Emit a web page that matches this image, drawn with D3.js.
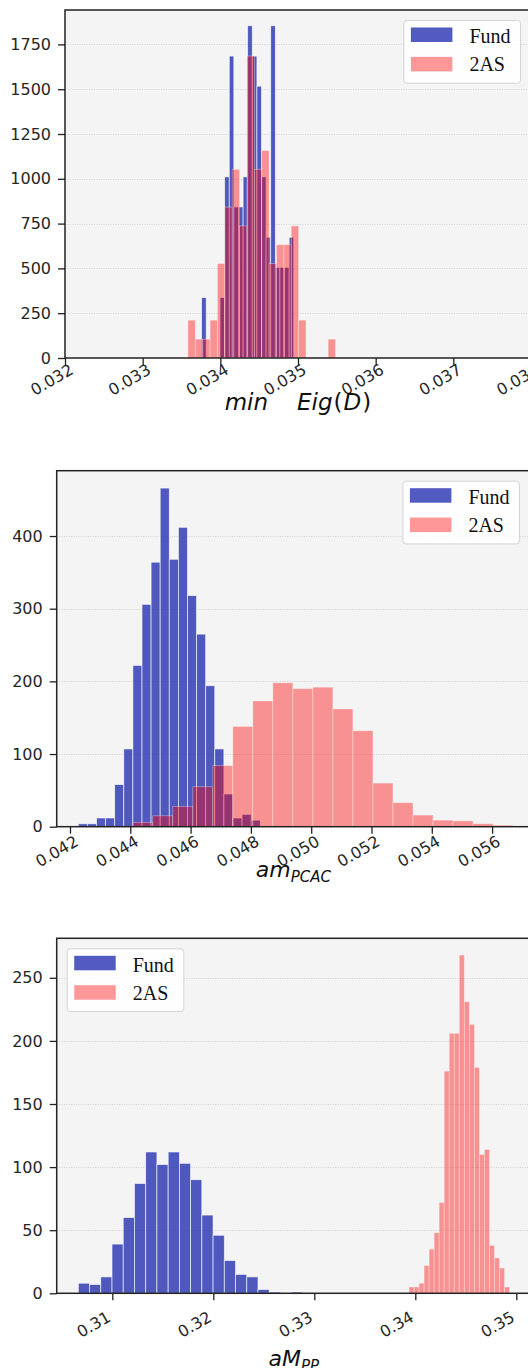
<!DOCTYPE html>
<html>
<head>
<meta charset="utf-8">
<script src="https://cdn.jsdelivr.net/npm/d3@7"></script>
<style>
  html, body { margin: 0; padding: 0; background: #ffffff; }
  svg { display: block; }
</style>
</head>
<body>
<svg id="chart" width="528" height="1368"></svg>
<script>
// ---------------------------------------------------------------
// Histogram data (density heights per bin, bin edges in data units)
// ---------------------------------------------------------------
const seriesNames = ["Fund", "2AS"];

// Panel 1: min Eig(D)
const eigEdgesFund = [0.033759, 0.033818, 0.033878, 0.033937, 0.033996, 0.034056, 0.034115,
  0.034174, 0.034233, 0.034293, 0.034352, 0.034411, 0.034471, 0.034530, 0.034589, 0.034649,
  0.034708, 0.034767, 0.034826, 0.034886, 0.034945];
const eigFund = [337, 0, 0, 0, 337, 1011, 1685, 843, 843, 1011, 1854, 1685, 1517, 1011, 674,
  1854, 506, 506, 506, 674];
const eigEdges2AS = [0.033583, 0.033678, 0.033773, 0.033868, 0.033963, 0.034058, 0.034153,
  0.034248, 0.034343, 0.034438, 0.034533, 0.034628, 0.034723, 0.034818, 0.034913, 0.035008,
  0.035103, 0.035198, 0.035293, 0.035388, 0.035483];
const eig2AS = [211, 105, 105, 211, 527, 842, 1053, 737, 1685, 1053, 1158, 527, 632, 632, 737,
  211, 0, 0, 0, 105];
const eigTicksX = [0.032, 0.033, 0.034, 0.035, 0.036, 0.037, 0.038];
const eigTicksY = [0, 250, 500, 750, 1000, 1250, 1500, 1750];

// Panel 2: am_PCAC
const pcacEdgesFund = [0.042275, 0.042577, 0.042879, 0.043181, 0.043482, 0.043784, 0.044086,
  0.044388, 0.044689, 0.044991, 0.045293, 0.045595, 0.045897, 0.046198, 0.046500, 0.046802,
  0.047104, 0.047405, 0.047707, 0.048009, 0.048311];
const pcacFund = [4, 4, 12, 12, 58, 107, 222, 306, 364, 466, 368, 412, 318, 265, 194, 107, 45,
  12, 17, 9];
const pcacEdges2AS = [0.044080, 0.044744, 0.045408, 0.046072, 0.046736, 0.047400, 0.048064,
  0.048728, 0.049392, 0.050056, 0.050720, 0.051384, 0.052048, 0.052712, 0.053376, 0.054040,
  0.054704, 0.055368, 0.056032, 0.056696];
const pcac2AS = [6, 15, 28, 55, 84, 138, 173, 198, 190, 192, 162, 132, 60, 33, 16, 9, 8, 4, 2];
const pcacTicksX = [0.042, 0.044, 0.046, 0.048, 0.050, 0.052, 0.054, 0.056];
const pcacTicksY = [0, 100, 200, 300, 400];

// Panel 3: aM_PP
const ppEdgesFund = [0.306634, 0.307746, 0.308858, 0.309970, 0.311082, 0.312194, 0.313306,
  0.314418, 0.315530, 0.316642, 0.317754, 0.318866, 0.319978, 0.321090, 0.322202, 0.323314,
  0.324426, 0.325538, 0.326650, 0.327762, 0.328874];
const ppFund = [8, 7, 13, 39, 60, 87, 112, 102, 112, 103, 90, 62, 46, 26, 15, 13, 3, 1, 0, 1];
const ppEdges2AS = [0.339376, 0.339874, 0.340372, 0.340870, 0.341368, 0.341866, 0.342364,
  0.342862, 0.343360, 0.343858, 0.344356, 0.344854, 0.345352, 0.345850, 0.346348, 0.346846,
  0.347344, 0.347842, 0.348340, 0.348838, 0.349336];
const pp2AS = [5, 5, 8, 22, 35, 48, 72, 176, 206, 206, 268, 231, 213, 179, 110, 114, 38, 28, 20, 5];
const ppTicksX = [0.31, 0.32, 0.33, 0.34, 0.35];
const ppTicksY = [0, 50, 100, 150, 200, 250];

// ---------------------------------------------------------------
// Styling and layout
// ---------------------------------------------------------------
const TICK_FONT = "'DejaVu Sans', sans-serif";
const LEGEND_FONT = "'Liberation Serif', 'Times New Roman', serif";
const seriesStyle = {
  "Fund": { fill: "rgb(24,36,170)", opacity: 0.75 },
  "2AS":  { fill: "rgb(255,0,0)",   opacity: 0.40 }
};

const panels = [
  {
    id: "eig", left: 65, right: 531, top: 10, bottom: 358,
    xDomain: [0.032, 0.038], yDomain: [0, 1942],
    xTicks: eigTicksX, yTicks: eigTicksY, xFormat: d3.format(".3f"),
    fund: [eigEdgesFund, eigFund], twoAS: [eigEdges2AS, eig2AS],
    legend: "right",
    tickLabelAt: [9, 15],
    labelSize: 23,
    label: [{ t: "min", i: true }, { t: "Eig", i: true, dx: 29 },
            { t: "(", i: false, dx: 1 }, { t: "D", i: true, dx: 1 }, { t: ")", i: false, dx: 1 }],
    labelY: 410
  },
  {
    id: "pcac", left: 56.7, right: 530, top: 470.7, bottom: 826.7,
    xDomain: [0.041559, 0.057257], yDomain: [0, 489.9],
    xTicks: pcacTicksX, yTicks: pcacTicksY, xFormat: d3.format(".3f"),
    fund: [pcacEdgesFund, pcacFund], twoAS: [pcacEdges2AS, pcac2AS],
    legend: "right",
    tickLabelAt: [9, 18],
    labelSize: 22,
    label: [{ t: "am", i: true }, { t: "PCAC", i: true, sub: true }],
    labelY: 877
  },
  {
    id: "pp", left: 56.7, right: 531, top: 938.3, bottom: 1293.3,
    xDomain: [0.304495, 0.351455], yDomain: [0, 281.3],
    xTicks: ppTicksX, yTicks: ppTicksY, xFormat: d3.format(".2f"),
    fund: [ppEdgesFund, ppFund], twoAS: [ppEdges2AS, pp2AS],
    legend: "left",
    tickLabelAt: [-1, 27],
    labelSize: 22,
    label: [{ t: "aM", i: true }, { t: "PP", i: true, sub: true }],
    labelY: 1366
  }
];

const svg = d3.select("#chart");
const defs = svg.append("defs");

function toBins(edges, values) {
  return values.map((v, i) => ({ x0: edges[i], x1: edges[i + 1], v }));
}

panels.forEach(p => {
  const x = d3.scaleLinear().domain(p.xDomain).range([p.left, p.right]);
  const y = d3.scaleLinear().domain(p.yDomain).range([p.bottom, p.top]);
  const g = svg.append("g").attr("class", "panel-" + p.id);

  defs.append("clipPath").attr("id", "clip-" + p.id)
    .append("rect")
    .attr("x", p.left).attr("y", p.top)
    .attr("width", p.right - p.left).attr("height", p.bottom - p.top);

  // plot background
  g.append("rect")
    .attr("x", p.left).attr("y", p.top)
    .attr("width", p.right - p.left).attr("height", p.bottom - p.top)
    .attr("fill", "#f4f4f4");

  // horizontal dotted grid
  g.append("g").selectAll("line")
    .data(p.yTicks.filter(d => d > 0))
    .join("line")
    .attr("x1", p.left).attr("x2", p.right)
    .attr("y1", d => Math.round(y(d)) + 0.5).attr("y2", d => Math.round(y(d)) + 0.5)
    .attr("stroke", "#d0d0d0").attr("stroke-width", 0.8)
    .attr("stroke-dasharray", "1.2,1.2");

  // histogram bars: Fund first, 2AS drawn on top
  const plot = g.append("g").attr("clip-path", `url(#clip-${p.id})`);
  [["Fund", p.fund], ["2AS", p.twoAS]].forEach(([name, [edges, vals]]) => {
    const st = seriesStyle[name];
    plot.append("g").selectAll("rect")
      .data(toBins(edges, vals).filter(b => b.v > 0))
      .join("rect")
      .attr("x", b => x(b.x0))
      .attr("width", b => x(b.x1) - x(b.x0))
      .attr("y", b => y(b.v))
      .attr("height", b => y(0) - y(b.v))
      .attr("fill", st.fill).attr("fill-opacity", st.opacity)
      .attr("stroke", "#ffffff").attr("stroke-opacity", st.opacity)
      .attr("stroke-width", 0.8);
  });

  // y axis
  const ya = g.append("g")
    .attr("transform", `translate(${p.left},0)`)
    .call(d3.axisLeft(y).tickValues(p.yTicks).tickSize(7).tickPadding(7).tickFormat(d3.format("d")));
  ya.select(".domain").remove();
  ya.selectAll(".tick line").attr("stroke", "#222").attr("stroke-width", 1.3);
  ya.selectAll(".tick text")
    .attr("font-family", TICK_FONT).attr("font-size", 16).attr("fill", "#262626");

  // x axis with labels rotated 30 degrees, right end under the tick
  const xa = g.append("g")
    .attr("transform", `translate(0,${p.bottom})`)
    .call(d3.axisBottom(x).tickValues(p.xTicks).tickSize(7).tickFormat(p.xFormat));
  xa.select(".domain").remove();
  xa.selectAll(".tick line").attr("stroke", "#222").attr("stroke-width", 1.3);
  xa.selectAll(".tick text")
    .attr("font-family", TICK_FONT).attr("font-size", 16).attr("fill", "#262626")
    .attr("text-anchor", "end")
    .attr("x", 0).attr("y", 0).attr("dy", 0)
    .attr("transform", `translate(${p.tickLabelAt[0]},${p.tickLabelAt[1]}) rotate(-30)`);

  // frame
  g.append("rect")
    .attr("x", p.left).attr("y", p.top)
    .attr("width", p.right - p.left).attr("height", p.bottom - p.top)
    .attr("fill", "none").attr("stroke", "#222").attr("stroke-width", 1.5);

  // axis label (math-style italic)
  const lab = g.append("text")
    .attr("x", (p.left + p.right) / 2).attr("y", p.labelY)
    .attr("text-anchor", "middle")
    .attr("font-family", TICK_FONT).attr("font-size", p.labelSize).attr("fill", "#111");
  p.label.forEach(part => {
    const ts = lab.append("tspan").text(part.t)
      .attr("font-style", part.i ? "italic" : "normal");
    if (part.dx) ts.attr("dx", part.dx);
    if (part.sub) ts.attr("font-size", 15).attr("baseline-shift", "-30%");
  });

  // legend
  const boxW = 116.6, boxH = 62.7;
  const bx = p.legend === "right" ? p.right - 11 - boxW : p.left + 10;
  const by = p.top + 10;
  const lg = g.append("g").attr("transform", `translate(${bx},${by})`);
  lg.append("rect")
    .attr("x", 0.5).attr("y", 0.5).attr("width", boxW).attr("height", boxH)
    .attr("rx", 3).attr("fill", "#ffffff").attr("fill-opacity", 0.85)
    .attr("stroke", "#d4d4d4").attr("stroke-width", 1);
  seriesNames.forEach((name, i) => {
    const st = seriesStyle[name];
    lg.append("rect")
      .attr("x", 7.5).attr("y", 7.5 + i * 29.4).attr("width", 41.5).attr("height", 14.5)
      .attr("fill", st.fill).attr("fill-opacity", st.opacity);
    lg.append("text")
      .attr("x", 66).attr("y", 23.3 + i * 28)
      .attr("font-family", LEGEND_FONT).attr("font-size", 20).attr("fill", "#111")
      .text(name);
  });
});
</script>
</body>
</html>
